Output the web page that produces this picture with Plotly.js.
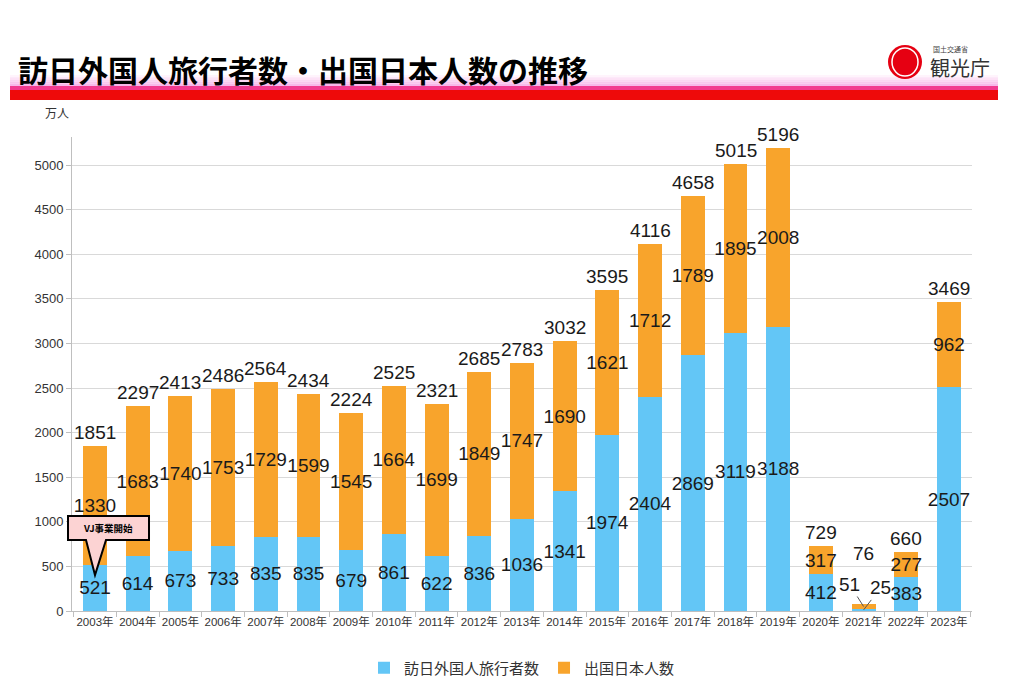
<!DOCTYPE html>
<html>
<head>
<meta charset="utf-8">
<script src="https://cdn.plot.ly/plotly-3.0.1.min.js"></script>
<style>html,body{margin:0;padding:0;background:#fff;}#chart{width:1024px;height:683px;}</style>
</head>
<body>
<div id="chart"></div>
<script>
const years = ["2003年","2004年","2005年","2006年","2007年","2008年","2009年","2010年","2011年","2012年","2013年","2014年","2015年","2016年","2017年","2018年","2019年","2020年","2021年","2022年","2023年"];
const inbound = [521,614,673,733,835,835,679,861,622,836,1036,1341,1974,2404,2869,3119,3188,412,25,383,2507];
const outbound = [1330,1683,1740,1753,1729,1599,1545,1664,1699,1849,1747,1690,1621,1712,1789,1895,2008,317,51,277,962];
const totals = [1851,2297,2413,2486,2564,2434,2224,2525,2321,2685,2783,3032,3595,4116,4658,5015,5196,729,76,660,3469];
const seriesNames = ["訪日外国人旅行者数","出国日本人数"];
const titleText = "訪日外国人旅行者数・出国日本人数の推移";
const smallYear = "2021年";

const W = 1024, H = 683;
const M = {l:72, r:52, t:137, b:72, autoexpand:false};
const PW = W - M.l - M.r, PH = H - M.t - M.b;
const px = x => (x - M.l) / PW;
const py = y => (H - M.b - y) / PH;

const BLUE = '#63c6f6', ORANGE = '#f8a42c';
const numFont = 'Liberation Sans, Arial, sans-serif';
const jpFont = 'Noto Sans CJK JP, sans-serif';

const hideSmall = (arr) => arr.map((v,i) => years[i] === smallYear ? '' : String(v));

const traces = [
  {type:'bar', name:seriesNames[0], x:years, y:inbound, marker:{color:BLUE},
   text:hideSmall(inbound), textposition:'inside', insidetextanchor:'middle', textangle:0,
   textfont:{family:numFont, size:19, color:'#1a1a1a'}, hoverinfo:'skip'},
  {type:'bar', name:seriesNames[1], x:years, y:outbound, marker:{color:ORANGE},
   text:hideSmall(outbound), textposition:'inside', insidetextanchor:'middle', textangle:0,
   textfont:{family:numFont, size:19, color:'#1a1a1a'}, hoverinfo:'skip'}
];

const annotations = [];
totals.forEach((t,i) => {
  annotations.push({x:years[i], y:t, xref:'x', yref:'y', text:String(t), showarrow:false,
    yanchor:'bottom', yshift: years[i] === smallYear ? 38 : 1, font:{family:numFont, size:19, color:'#1a1a1a'}});
});
// small-year labels with leader lines
const si = years.indexOf(smallYear);
annotations.push({x:smallYear, y:inbound[si] + outbound[si]/2, xref:'x', yref:'y', text:String(outbound[si]),
  showarrow:true, arrowhead:0, arrowwidth:1, arrowcolor:'#555', ax:-14, ay:-22,
  font:{family:numFont, size:19, color:'#1a1a1a'}});
annotations.push({x:smallYear, y:inbound[si]/2, xref:'x', yref:'y', text:String(inbound[si]),
  showarrow:true, arrowhead:0, arrowwidth:1, arrowcolor:'#555', ax:17, ay:-22,
  font:{family:numFont, size:19, color:'#1a1a1a'}});

// title
annotations.push({xref:'paper', yref:'paper', x:px(16), y:py(69), xanchor:'left', yanchor:'middle',
  text:'<b>'+titleText+'</b>', showarrow:false, font:{family:jpFont, size:30, color:'#000'}});
// unit
annotations.push({xref:'paper', yref:'paper', x:px(57), y:py(113), xanchor:'center', yanchor:'middle',
  text:'万人', showarrow:false, font:{family:jpFont, size:12, color:'#333'}});
// logo text
annotations.push({xref:'paper', yref:'paper', x:px(931), y:py(49), xanchor:'left', yanchor:'middle',
  text:'国土交通省', showarrow:false, font:{family:jpFont, size:7, color:'#444'}});
annotations.push({xref:'paper', yref:'paper', x:px(928), y:py(67), xanchor:'left', yanchor:'middle',
  text:'観光庁', showarrow:false, font:{family:jpFont, size:20, color:'#333'}});
// VJ callout text
annotations.push({xref:'paper', yref:'paper', x:px(108), y:py(528), xanchor:'center', yanchor:'middle',
  text:'<b>VJ事業開始</b>', showarrow:false, font:{family:jpFont, size:9.5, color:'#000'}});

const shapes = [];
// header bands
const grad = ['#fff4fc','#fde3f7','#fbd4f2','#f9c6ee','#f7b8ea'];
grad.forEach((c,k) => {
  const y0 = 75 + k*2.2, y1 = 75 + (k+1)*2.2;
  shapes.push({type:'rect', xref:'paper', yref:'paper', x0:px(10), x1:px(998), y0:py(y1), y1:py(y0),
    fillcolor:c, line:{width:0}, layer:'below'});
});
shapes.push({type:'rect', xref:'paper', yref:'paper', x0:px(10), x1:px(998), y0:py(90), y1:py(86),
  fillcolor:'#f23a90', line:{width:0}, layer:'below'});
shapes.push({type:'rect', xref:'paper', yref:'paper', x0:px(10), x1:px(998), y0:py(100), y1:py(90),
  fillcolor:'#ee0a0a', line:{width:0}, layer:'below'});
// logo
shapes.push({type:'circle', xref:'paper', yref:'paper', x0:px(888), x1:px(922), y0:py(79), y1:py(45),
  fillcolor:'#e60012', line:{width:0}});
shapes.push({type:'circle', xref:'paper', yref:'paper', x0:px(892), x1:px(918), y0:py(76), y1:py(48),
  fillcolor:'rgba(0,0,0,0)', line:{color:'#ffffff', width:1.5}});
shapes.push({type:'circle', xref:'paper', yref:'paper', x0:px(895), x1:px(915), y0:py(73), y1:py(51),
  fillcolor:'#e60012', line:{width:0}});
// VJ callout
const pts = [[68,516],[149,516],[149,540],[106,540],[95,575],[86,540],[68,540]];
const path = 'M ' + pts.map(p => px(p[0]).toFixed(5)+','+py(p[1]).toFixed(5)).join(' L ') + ' Z';
shapes.push({type:'path', xref:'paper', yref:'paper', path:path, fillcolor:'#fcd3d3',
  line:{color:'#000', width:2}});

const layout = {
  width:W, height:H, margin:M, paper_bgcolor:'#fff', plot_bgcolor:'#fff',
  barmode:'stack', bargap:0.44, showlegend:true,
  uniformtext:{mode:'show', minsize:19},
  font:{family:numFont, color:'#333'},
  xaxis:{type:'category', showline:true, linecolor:'#bfbfbf', linewidth:1, ticks:'outside',
    tickson:'boundaries', ticklen:5, tickcolor:'#bfbfbf', showgrid:false, tickangle:0, automargin:false,
    tickfont:{family:'Liberation Sans, Noto Sans CJK JP, sans-serif', size:11.5, color:'#333'}, fixedrange:true},
  yaxis:{range:[0,5314], tickvals:[0,500,1000,1500,2000,2500,3000,3500,4000,4500,5000], automargin:false,
    showline:true, linecolor:'#bfbfbf', linewidth:1, ticks:'outside', ticklen:5, tickcolor:'#bfbfbf',
    gridcolor:'#d9d9d9', zeroline:false, tickfont:{family:numFont, size:13, color:'#333'}, fixedrange:true},
  legend:{orientation:'h', x:0.5, xanchor:'center', y:py(668), yanchor:'middle',
    font:{family:jpFont, size:15, color:'#333'}, itemwidth:30, traceorder:'normal'},
  annotations:annotations, shapes:shapes, hovermode:false
};

Plotly.newPlot('chart', traces, layout, {displayModeBar:false, staticPlot:true});
</script>
</body>
</html>
